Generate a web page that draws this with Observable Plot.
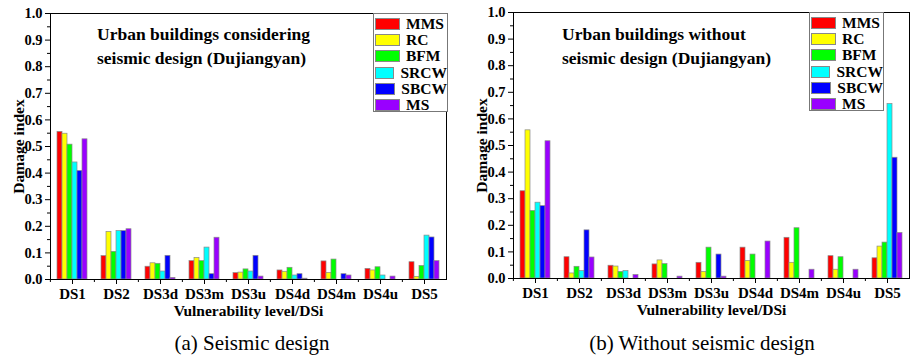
<!DOCTYPE html>
<html>
<head>
<meta charset="utf-8">
<script src="https://cdn.jsdelivr.net/npm/d3@7"></script>
<script src="https://cdn.jsdelivr.net/npm/@observablehq/plot@0.6"></script>
<style>
  html, body { margin: 0; padding: 0; background: #fff; }
  #root { position: relative; width: 911px; height: 357px; overflow: hidden; font-family: "Liberation Serif", "Times New Roman", serif; }
  .panel { position: absolute; top: 0; }
  .panel svg text { font-family: "Liberation Serif", "Times New Roman", serif; font-weight: bold; }
  .panel g[aria-label="y-axis tick label"] text { font-size: 14.5px; }
  .panel g[aria-label="fx-axis tick label"] text { font-size: 15px; }
  .panel g[aria-label="y-axis label"] text, .panel g[aria-label="fx-axis label"] text { font-size: 15.5px; }
  .note { position: absolute; font-weight: bold; font-size: 17.5px; line-height: 23.5px; color: #000; white-space: nowrap; }
  .legend { position: absolute; border: 1px solid #777; background: #fff; box-sizing: border-box; padding: 2px 0 0 1px; }
  .legend .row { display: flex; align-items: center; height: 16.2px; }
  .legend .sw { width: 25px; height: 12px; border: 1px solid #888; box-sizing: border-box; margin-right: 6px; }
  .legend .lb { font-weight: bold; font-size: 15.5px; color: #000; }
  .caption { position: absolute; font-size: 21px; line-height: 21px; color: #000; white-space: nowrap; transform: translateX(-50%); }
</style>
</head>
<body>
<div id="root"></div>
<script>
const categories = ["DS1", "DS2", "DS3d", "DS3m", "DS3u", "DS4d", "DS4m", "DS4u", "DS5"];
const seriesNames = ["MMS", "RC", "BFM", "SRCW", "SBCW", "MS"];
const seriesColors = ["#ff0000", "#ffff00", "#00ff00", "#00ffff", "#0000ff", "#9900ff"];

// (a) Seismic design
const seisMMS  = [0.555, 0.088, 0.048, 0.069, 0.024, 0.034, 0.068, 0.040, 0.065];
const seisRC   = [0.548, 0.179, 0.061, 0.081, 0.026, 0.029, 0.025, 0.034, 0.010];
const seisBFM  = [0.507, 0.104, 0.059, 0.069, 0.038, 0.044, 0.075, 0.046, 0.051];
const seisSRCW = [0.440, 0.182, 0.030, 0.120, 0.030, 0.015, 0.000, 0.015, 0.165];
const seisSBCW = [0.408, 0.182, 0.089, 0.020, 0.089, 0.020, 0.020, 0.000, 0.158];
const seisMS   = [0.527, 0.189, 0.006, 0.157, 0.011, 0.003, 0.015, 0.011, 0.069];

// (b) Without seismic design
const noMMS  = [0.328, 0.080, 0.048, 0.053, 0.059, 0.116, 0.153, 0.084, 0.076];
const noRC   = [0.557, 0.019, 0.045, 0.068, 0.025, 0.066, 0.059, 0.033, 0.120];
const noBFM  = [0.254, 0.044, 0.025, 0.054, 0.116, 0.090, 0.189, 0.080, 0.135];
const noSRCW = [0.285, 0.028, 0.028, 0.000, 0.000, 0.000, 0.000, 0.000, 0.656];
const noSBCW = [0.272, 0.181, 0.000, 0.000, 0.090, 0.000, 0.000, 0.000, 0.454];
const noMS   = [0.516, 0.079, 0.013, 0.007, 0.007, 0.139, 0.033, 0.033, 0.171];

const yTicks = [0, 0.1, 0.2, 0.3, 0.4, 0.5, 0.6, 0.7, 0.8, 0.9, 1.0];
const yMinorTicks = [0.05, 0.15, 0.25, 0.35, 0.45, 0.55, 0.65, 0.75, 0.85, 0.95];

const panels = [
  {
    left: 0, width: 455, marginLeft: 49, marginRight: 8, marginTop: 13, marginBottom: 46,
    values: [seisMMS, seisRC, seisBFM, seisSRCW, seisSBCW, seisMS],
    note: ["Urban buildings considering", "seismic design (Dujiangyan)"], noteLeft: 97,
    legendLeft: 373, legendTop: 13,
    caption: "(a) Seismic design", captionX: 252
  },
  {
    left: 460, width: 451, marginLeft: 52, marginRight: 1, marginTop: 12, marginBottom: 47,
    values: [noMMS, noRC, noBFM, noSRCW, noSBCW, noMS],
    note: ["Urban buildings without", "seismic design (Dujiangyan)"], noteLeft: 562,
    legendLeft: 809, legendTop: 12,
    caption: "(b) Without seismic design", captionX: 702
  }
];

const root = document.getElementById("root");
const fontFamily = "'Liberation Serif', 'Times New Roman', serif";

for (const p of panels) {
  const rows = [];
  categories.forEach((c, i) => {
    seriesNames.forEach((s, j) => rows.push({cat: c, series: s, value: p.values[j][i]}));
  });
  const step = (p.width - p.marginLeft - p.marginRight) / categories.length;

  const chart = Plot.plot({
    width: p.width,
    height: 325,
    marginLeft: p.marginLeft,
    marginRight: p.marginRight,
    marginTop: p.marginTop,
    marginBottom: p.marginBottom,
    style: {fontFamily, fontWeight: "bold", fontSize: "15px", color: "#000", background: "transparent", overflow: "visible"},
    fx: {domain: categories, padding: 0, label: null},
    x: {domain: seriesNames, paddingInner: 0, paddingOuter: 0.78, axis: null},
    y: {domain: [0, 1]},
    color: {domain: seriesNames, range: seriesColors},
    marks: [
      Plot.barY(rows, {fx: "cat", x: "series", y: "value", fill: "series", stroke: "#8a8a8a", strokeWidth: 0.7}),
      Plot.axisY({ticks: yTicks, tickFormat: d3.format(".1f"), tickSize: 5, tickPadding: 3, label: "Damage index", labelArrow: "none", labelAnchor: "center", labelOffset: 38}),
      Plot.axisY({ticks: yMinorTicks, tickFormat: () => "", tickSize: 3, label: null}),
      Plot.axisFx({anchor: "bottom", tickSize: 5, tickPadding: 4, label: "Vulnerability level/DSi", labelArrow: "none", labelAnchor: "center", labelOffset: 36}),
      Plot.axisFx({anchor: "bottom", tickSize: 3, tickFormat: () => "", label: null, dx: -step / 2}),
      Plot.frame({facet: "super", stroke: "#000", strokeWidth: 1})
    ]
  });

  const wrap = document.createElement("div");
  wrap.className = "panel";
  wrap.style.left = p.left + "px";
  wrap.appendChild(chart);
  root.appendChild(wrap);

  const note = document.createElement("div");
  note.className = "note";
  note.style.left = p.noteLeft + "px";
  note.style.top = "23px";
  note.innerHTML = p.note.join("<br>");
  root.appendChild(note);

  const legend = document.createElement("div");
  legend.className = "legend";
  legend.style.left = p.legendLeft + "px";
  legend.style.top = p.legendTop + "px";
  legend.style.width = "75px";
  legend.style.height = "99px";
  seriesNames.forEach((s, j) => {
    const row = document.createElement("div");
    row.className = "row";
    const sw = document.createElement("div");
    sw.className = "sw";
    sw.style.background = seriesColors[j];
    const lb = document.createElement("span");
    lb.className = "lb";
    lb.textContent = s;
    row.appendChild(sw);
    row.appendChild(lb);
    legend.appendChild(row);
  });
  root.appendChild(legend);

  const cap = document.createElement("div");
  cap.className = "caption";
  cap.style.left = p.captionX + "px";
  cap.style.top = "333px";
  cap.textContent = p.caption;
  root.appendChild(cap);
}
</script>
</body>
</html>
